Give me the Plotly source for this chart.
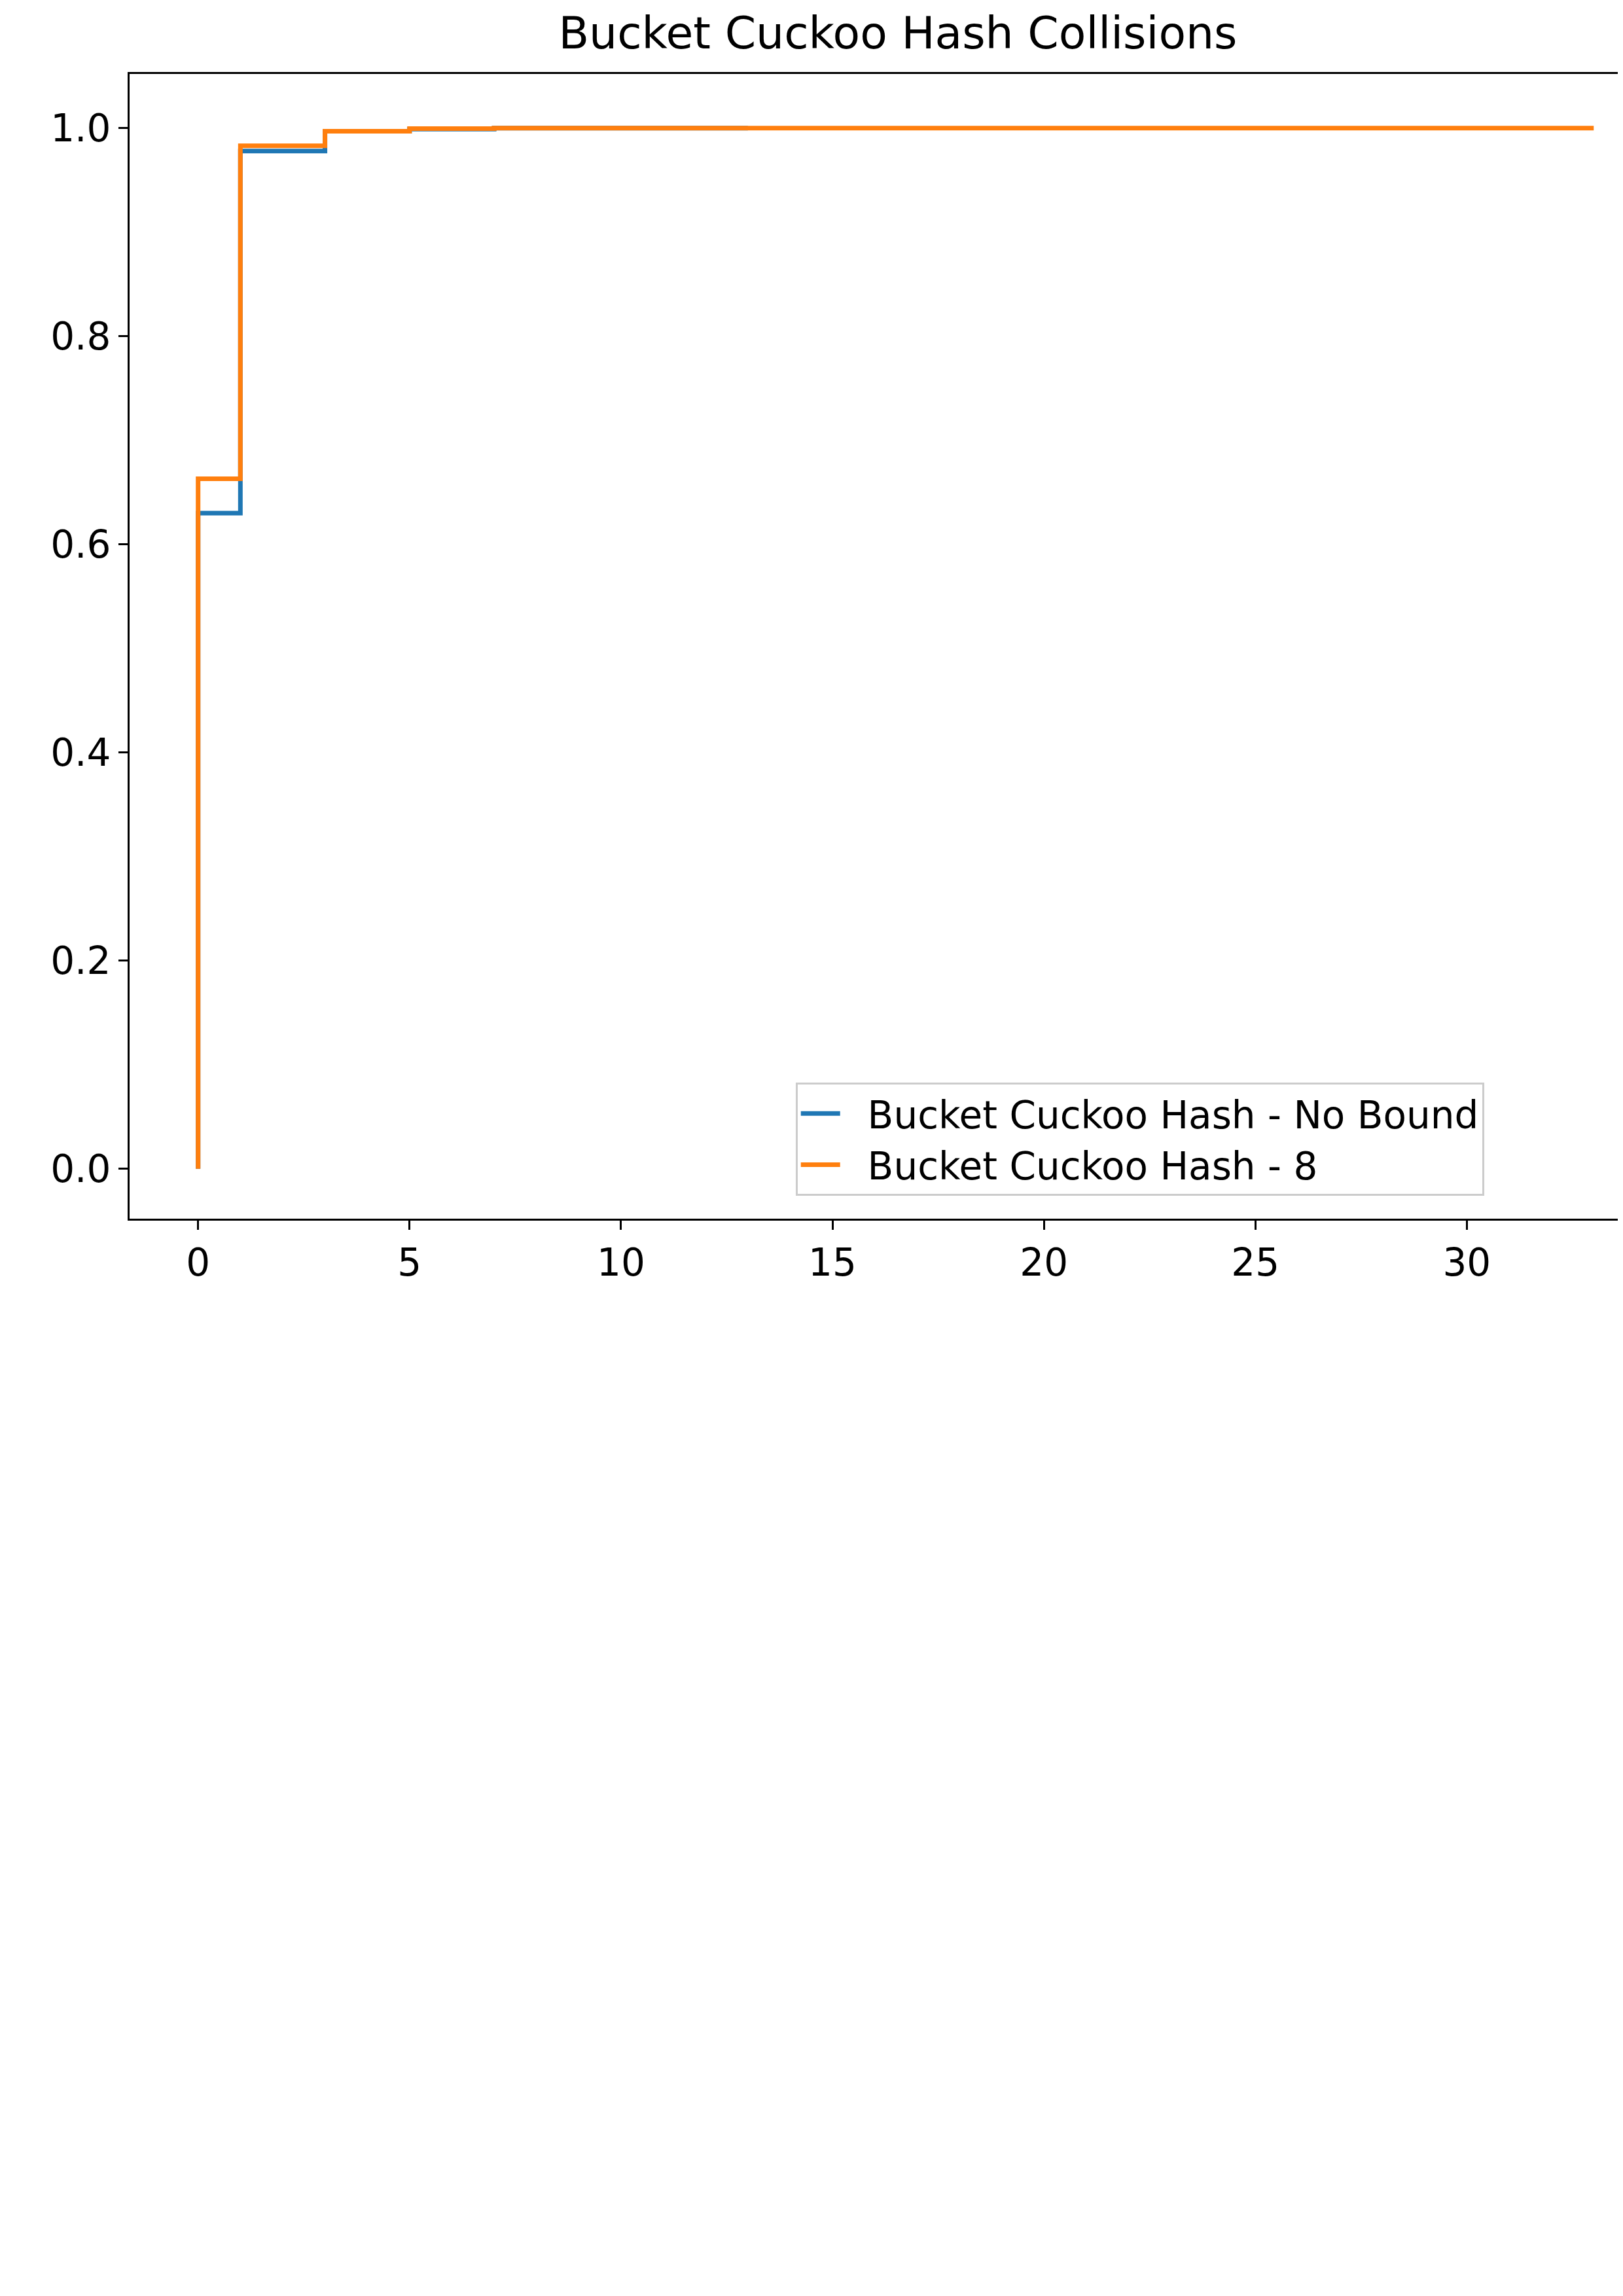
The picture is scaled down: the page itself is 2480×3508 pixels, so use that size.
import plotly.graph_objects as go

# collisions per insert (x) vs cumulative fraction (y)
nobound_x = [0, 0, 1, 3, 5, 7, 13]
nobound_y = [0.0, 0.630, 0.978, 0.997, 0.999, 1.0, 1.0]
bound8_x = [0, 0, 1, 3, 5, 7, 33]
bound8_y = [0.0, 0.663, 0.983, 0.997, 0.9995, 1.0, 1.0]

fig = go.Figure()
fig.add_trace(go.Scatter(x=nobound_x, y=nobound_y, mode="lines", line_shape="hv",
                         line=dict(color="#1f77b4", width=7),
                         name="  Bucket Cuckoo Hash - No Bound"))
fig.add_trace(go.Scatter(x=bound8_x, y=bound8_y, mode="lines", line_shape="hv",
                         line=dict(color="#ff7f0e", width=7),
                         name="  Bucket Cuckoo Hash - 8"))

axis = dict(showgrid=False, zeroline=False, showline=True, linecolor="black", linewidth=3,
            ticks="outside", ticklen=14, tickwidth=3, tickcolor="black",
            tickfont=dict(size=58, color="black"))
fig.update_layout(
    width=2480, height=3508,
    margin=dict(l=190, r=0, t=105, b=1654),
    plot_bgcolor="white", paper_bgcolor="white",
    font=dict(family="DejaVu Sans", color="black"),
    title=dict(text="Bucket Cuckoo Hash Collisions", x=0.55, xanchor="center",
               y=1 - 42 / 3508, yanchor="middle", font=dict(size=68)),
    xaxis=dict(axis, range=[-1.62, 33.77], tickvals=[0, 5, 10, 15, 20, 25, 30], mirror=True),
    yaxis=dict(axis, range=[-0.048, 1.052], tickvals=[0, 0.2, 0.4, 0.6, 0.8, 1.0],
               tickformat=".1f", mirror=True),
    legend=dict(x=0.445, y=0.02, xanchor="left", yanchor="bottom",
                bordercolor="#cccccc", borderwidth=3, bgcolor="rgba(255,255,255,0.8)",
                itemwidth=60, tracegroupgap=10, font=dict(size=58)),
)
fig.write_html("out.html")
